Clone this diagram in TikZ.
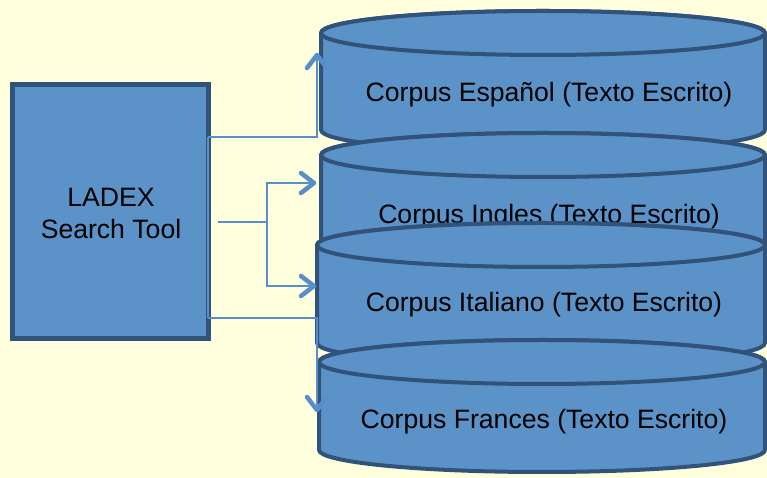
\documentclass[tikz,border=0pt]{standalone}
\usepackage{fontspec}
\setmainfont{Liberation Sans}
\usetikzlibrary{calc}

\definecolor{bgcream}{RGB}{255,255,221}
\definecolor{drumfill}{RGB}{91,146,200}
\definecolor{drumedge}{RGB}{49,83,122}
\definecolor{linkblue}{RGB}{88,142,201}

% ellipse half-height of every drum
\newcommand{\dry}{22}
% #1 cx, #2 rx, #3 top y, #4 bottom y
\newcommand{\corpusdrum}[4]{%
  \path[drum] (#1-#2,#3) -- (#1-#2,#4)
    arc[start angle=180,end angle=360,x radius=#2,y radius=\dry]
    -- (#1+#2,#3)
    arc[start angle=0,end angle=180,x radius=#2,y radius=\dry] -- cycle;
  \path[drum] (#1,#3) ellipse[x radius=#2,y radius=\dry];
}
% open chevron head: #1 tip coordinate, #2 pointing direction in degrees
\newcommand{\chevronhead}[2]{%
  \draw[chevron,rotate around={#2:(#1)}]
    ($(#1)+(-13,10)$) -- (#1) -- ($(#1)+(-13,-10)$);
}

\tikzset{
  drum/.style={fill=drumfill,draw=drumedge,line width=4pt},
  toolbox/.style={rectangle,fill=drumfill,draw=drumedge,line width=5pt,
    minimum width=196pt,minimum height=254pt,inner sep=0pt},
  label/.style={anchor=base,font=\fontsize{26.6}{32}\selectfont,inner sep=0pt},
  link/.style={draw=linkblue,line width=2pt},
  chevron/.style={draw=linkblue,line width=4.5pt,line cap=round,line join=round},
}

\begin{document}
\begin{tikzpicture}[x=1pt,y=1pt]
  \fill[bgcream] (0,0) rectangle (767,478);
  \useasboundingbox (0,0) rectangle (767,478);

  % search tool
  \node[toolbox] (tool) at (110.5,266.5) {};
  \node[label,align=center,anchor=north] (toolname) at (111,290)
    {LADEX\\Search Tool};

  % the four corpora, drawn top to bottom so each overlaps the one above
  \corpusdrum{543}{222}{445}{348}
  \node[label] (es) at (549,376) {Corpus Español (Texto Escrito)};
  \corpusdrum{543}{222}{323}{228}
  \node[label] (en) at (549,254) {Corpus Ingles (Texto Escrito)};
  \corpusdrum{541}{224}{233}{135}
  \node[label] (it) at (544,166) {Corpus Italiano (Texto Escrito)};
  \corpusdrum{542}{223}{116}{28}
  \node[label] (fr) at (544,49) {Corpus Frances (Texto Escrito)};

  % connector points
  \coordinate (outA) at (208,341);
  \coordinate (outB) at (208,160);
  \coordinate (tipEs) at (317,423);
  \coordinate (tipFr) at (317,68);
  \coordinate (midA) at (218,256);
  \coordinate (fork) at (267,256);
  \coordinate (tipEn) at (314,295);
  \coordinate (tipIt) at (314,192);

  % connectors
  \draw[link] (outA) -- (outB);
  \draw[link] (outA) -| (tipEs);
  \draw[link] (outB) -| (tipFr);
  \draw[link] (midA) -- (fork);
  \draw[link] (fork) |- (tipEn);
  \draw[link] (fork) |- (tipIt);

  % arrow heads
  \chevronhead{tipEs}{90}
  \chevronhead{tipFr}{270}
  \chevronhead{tipEn}{0}
  \chevronhead{tipIt}{0}
\end{tikzpicture}
\end{document}
